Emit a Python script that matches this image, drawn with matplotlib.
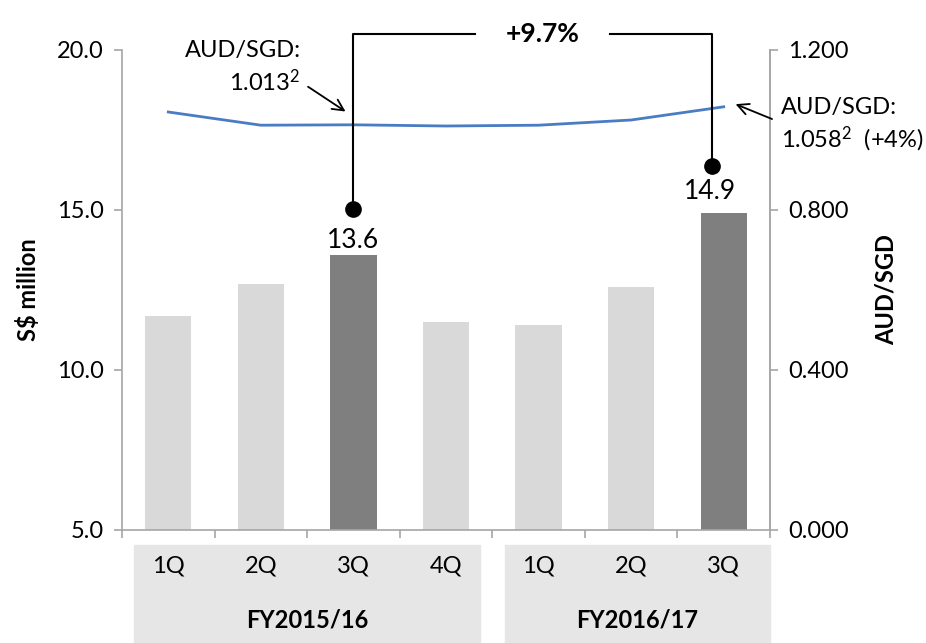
import matplotlib
matplotlib.use("Agg")
import matplotlib.pyplot as plt
from matplotlib.patches import Rectangle
import matplotlib.transforms as mtransforms

plt.rcParams['font.family'] = ['Lato', 'DejaVu Sans']
plt.rcParams['mathtext.fontset'] = 'custom'
plt.rcParams['mathtext.rm'] = 'Lato'
plt.rcParams['mathtext.it'] = 'Lato:italic'
plt.rcParams['mathtext.bf'] = 'Lato:bold'

quarters = ["1Q", "2Q", "3Q", "4Q", "1Q", "2Q", "3Q"]
years = ["FY2015/16", "FY2016/17"]
revenue = [11.7, 12.7, 13.6, 11.5, 11.4, 12.6, 14.9]
highlight = [False, False, True, False, False, False, True]
aud_sgd = [1.045, 1.012, 1.013, 1.010, 1.012, 1.025, 1.058]
left_ticks = [5.0, 10.0, 15.0, 20.0]
right_ticks = [0.0, 0.4, 0.8, 1.2]

LIGHT = "#D9D9D9"
DARK = "#7F7F7F"
BLUE = "#4A7CC4"
SPINE = "#A6A6A6"
BOX = "#E6E6E6"
FS = 17

fig = plt.figure(figsize=(9.26, 6.43), dpi=100)
ax = fig.add_axes([122/926, 1-530/643, (770-122)/926, 480/643])
x = list(range(len(quarters)))
colors = [DARK if h else LIGHT for h in highlight]
ax.bar(x, revenue, width=0.5, color=colors, bottom=0, zorder=2)
ax.set_ylim(5, 20)
ax.set_xlim(-0.5, 6.5)
ax.set_yticks(left_ticks)
ax.set_yticklabels([f"{v:.1f}" for v in left_ticks], fontsize=FS)
ax.set_xticks([i - 0.5 for i in range(len(quarters) + 1)])
ax.set_xticklabels([])
ax.tick_params(axis='both', color=SPINE, length=6, width=1.2)
ax.tick_params(axis='y', pad=7)
ax.spines['top'].set_visible(False)
for s in ['left', 'bottom', 'right']:
    ax.spines[s].set_color(SPINE)
    ax.spines[s].set_linewidth(1.2)
ax.set_ylabel("S$ million", fontsize=FS, fontweight='bold', labelpad=12)

ax2 = ax.twinx()
ax2.plot(x, aud_sgd, color=BLUE, lw=2, zorder=3)
ax2.set_ylim(0, 1.2)
ax2.set_yticks(right_ticks)
ax2.set_yticklabels([f"{v:.3f}" for v in right_ticks], fontsize=FS)
ax2.tick_params(axis='y', color=SPINE, length=6, width=1.2, pad=7)
for s in ['top', 'left', 'bottom']:
    ax2.spines[s].set_visible(False)
ax2.spines['right'].set_color(SPINE)
ax2.spines['right'].set_linewidth(1.2)
ax2.set_ylabel("AUD/SGD", fontsize=FS, fontweight='bold', labelpad=19)

# category boxes below axis
trans = mtransforms.blended_transform_factory(ax.transData, ax.transAxes)
box_top = (530 - 545) / 480
box_bot = (530 - 645) / 480
for x0, x1 in [(-0.37, 3.37), (3.64, 6.5)]:
    ax.add_patch(Rectangle((x0, box_bot), x1 - x0, box_top - box_bot,
                           transform=trans, color=BOX, clip_on=False, zorder=0))
for i, q in enumerate(quarters):
    ax.text(i, (530 - 566) / 480, q, transform=trans, ha='center', va='center',
            fontsize=FS)
ax.text(1.5, (530 - 620) / 480, years[0], transform=trans, ha='center',
        va='center', fontsize=FS, fontweight='bold')
ax.text(5.07, (530 - 620) / 480, years[1], transform=trans, ha='center',
        va='center', fontsize=FS, fontweight='bold')

# value labels
ax.text(2, revenue[2] + 0.05, f"{revenue[2]:.1f}", ha='center', va='bottom', fontsize=19)
ax.text(5.85, revenue[6] + 0.3, f"{revenue[6]:.1f}", ha='center', va='bottom', fontsize=19)

# growth bracket
top_y = 20.5
lx, ly = 2, 15.03
rx, ry = 5.875, 16.375
ax.plot([lx, lx, 3.31], [ly, top_y, top_y], color='black', lw=1.5, clip_on=False, zorder=5)
ax.plot([4.775, rx, rx], [top_y, top_y, ry], color='black', lw=1.5, clip_on=False, zorder=5)
ax.plot([lx, rx], [ly, ry], 'o', color='black', ms=11, clip_on=False, zorder=6)
ax.text(4.04, top_y, "+9.7%", ha='center', va='center', fontsize=19,
        fontweight='bold', zorder=6)

# AUD/SGD annotations
ax.text(1.43, 20.0, "AUD/SGD:", ha='right', va='center', fontsize=FS, zorder=6)
ax.text(1.43, 19.0, "1.013$^{2}$", ha='right', va='center', fontsize=FS, zorder=6)
ax.annotate("", xy=(1.94, 18.03), xytext=(1.485, 18.9), xycoords='data',
            arrowprops=dict(arrowstyle='->', color='black', lw=1.3,
                            mutation_scale=20), zorder=6)
ax.annotate("", xy=(6.10, 18.34), xytext=(6.55, 17.81),
            arrowprops=dict(arrowstyle='->', color='black', lw=1.3,
                            mutation_scale=20), annotation_clip=False, zorder=6)
ax.text(6.62, 18.2, "AUD/SGD:", ha='left', va='center', fontsize=FS, zorder=6)
ax.text(6.62, 17.2, "1.058$^{2}$  (+4%)", ha='left', va='center', fontsize=FS, zorder=6)

ax.set_zorder(ax2.get_zorder() + 1)
ax.patch.set_visible(False)

fig.savefig("out.png", dpi=100)
